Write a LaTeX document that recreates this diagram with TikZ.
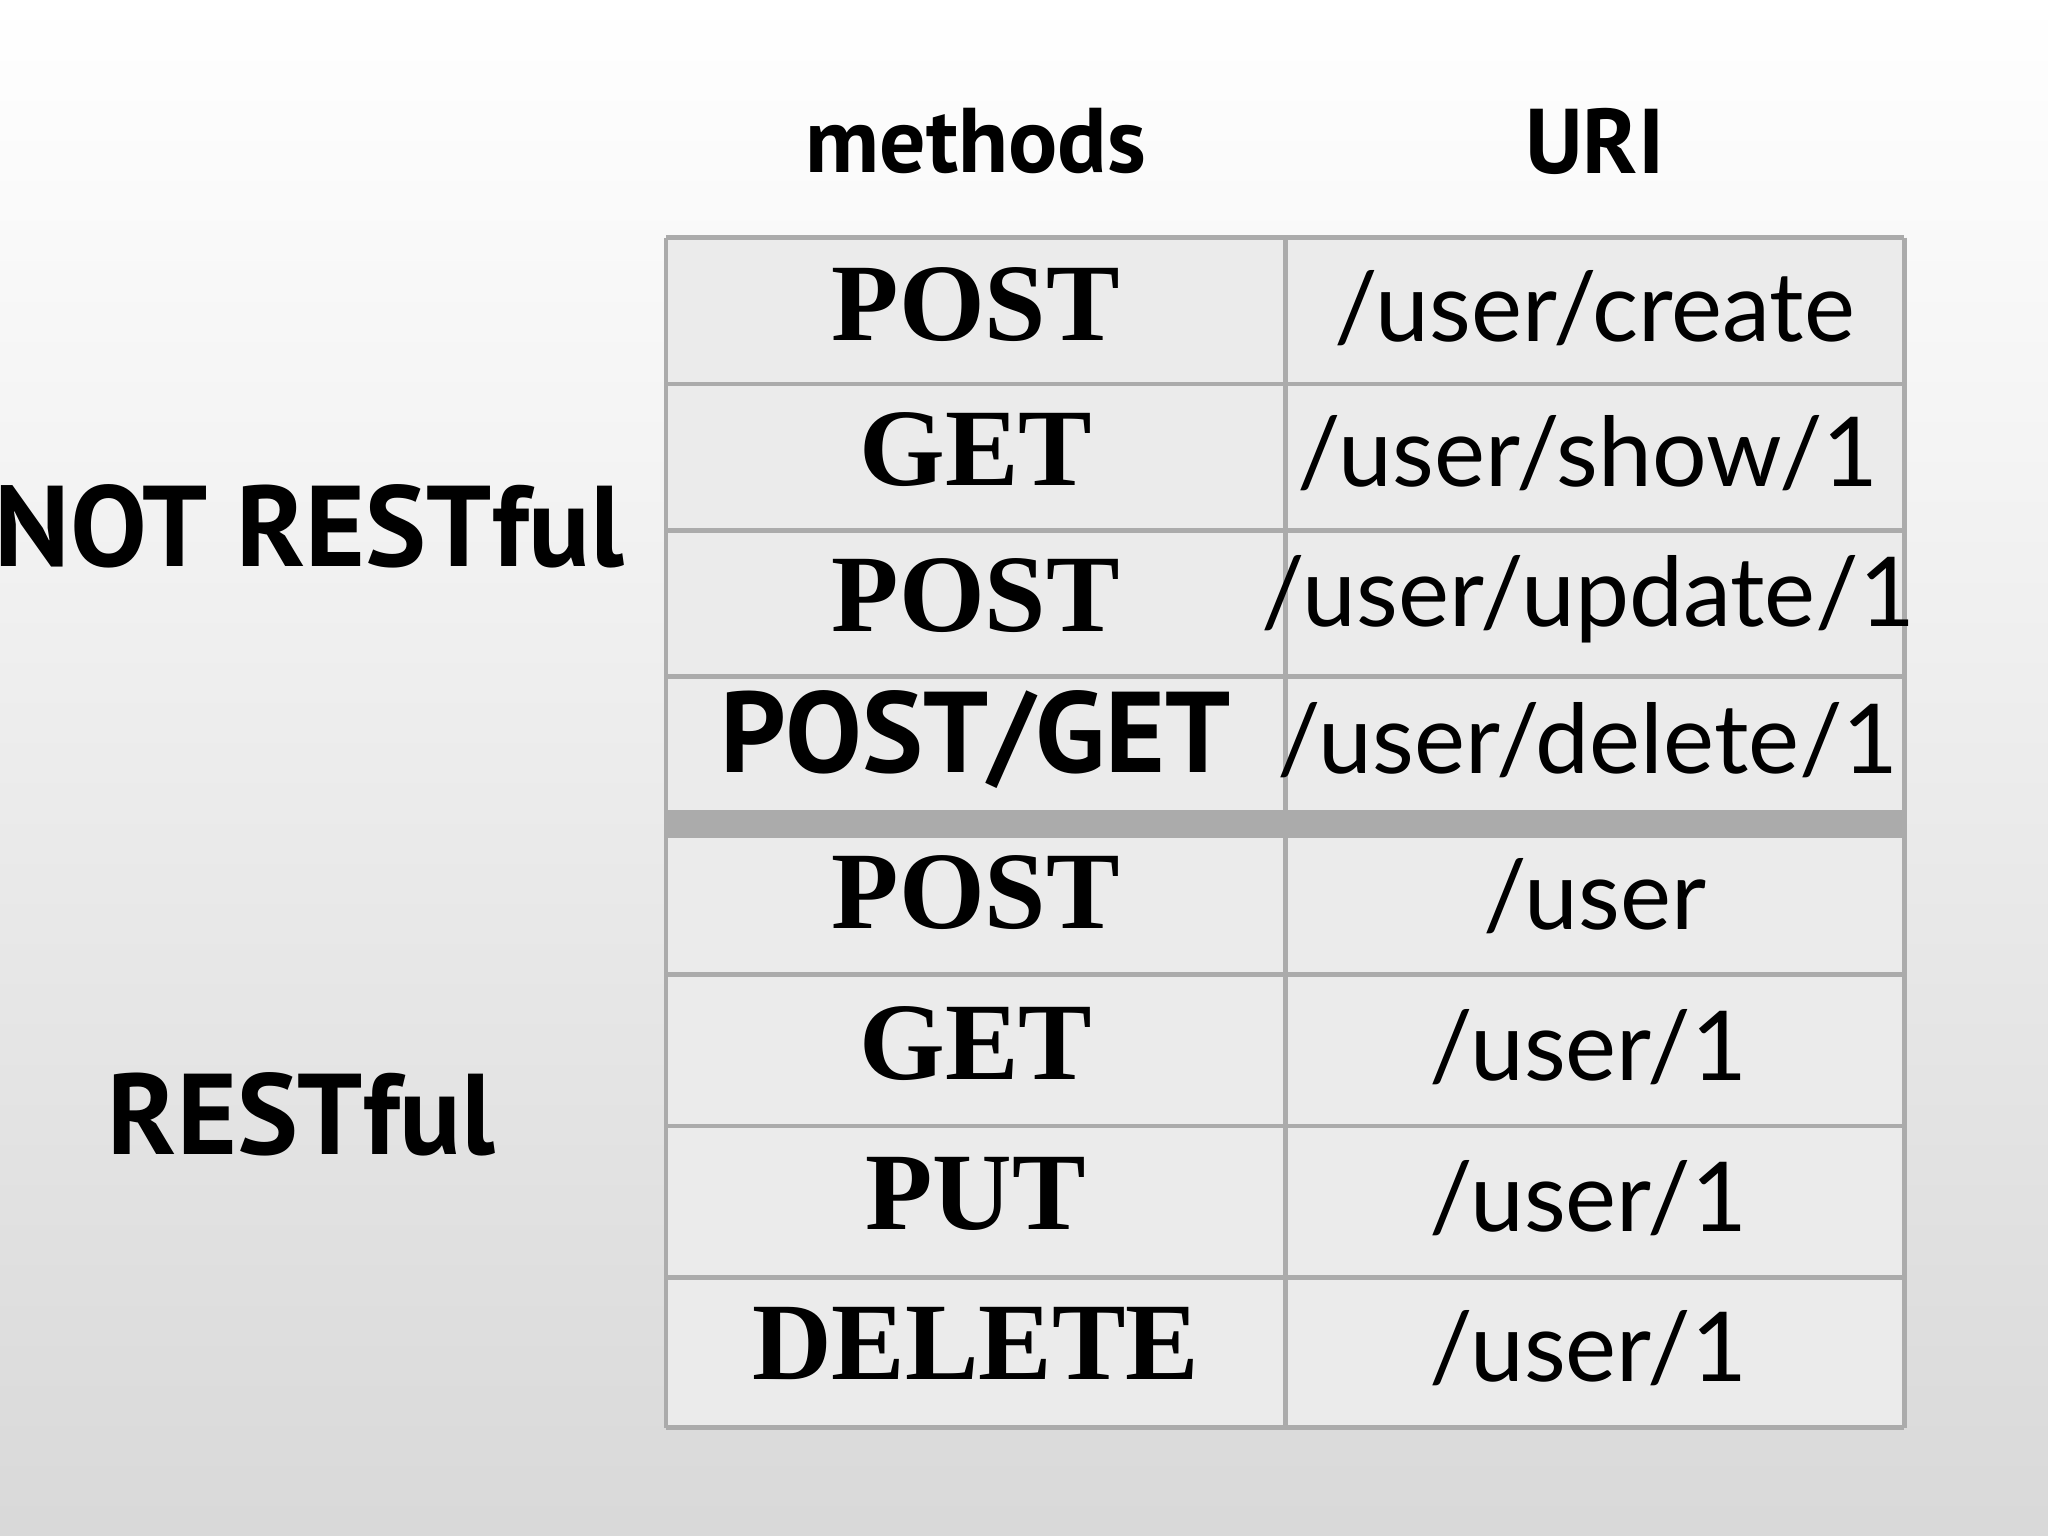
\documentclass[tikz,border=0pt]{standalone}
\usepackage{fontspec}
\setmainfont{Liberation Serif}
\newfontfamily\hdfont{PT Sans}
\newfontfamily\urifont{Lato}
\begin{document}
\begin{tikzpicture}[x=0.01cm,y=-0.01cm,
  meth/.style={font=\fontsize{24}{28}\selectfont\bfseries},
  uri/.style={font=\urifont\fontsize{21}{25}\selectfont},
  hd/.style={font=\hdfont\fontsize{20}{24}\selectfont\bfseries},
  side/.style={font=\hdfont\fontsize{25}{30}\selectfont\bfseries},
  grid/.style={draw=black!33,line width=1pt}]
\shade[top color=white,bottom color=black!15] (0,0) rectangle (1568,1176);
\useasboundingbox (0,0) rectangle (1568,1176);
\fill[black!8] (510,182) rectangle (1458,1093);
\fill[black!33] (510,622) rectangle (1458,640);
\foreach \y in {182,294,406,518,622,640,746,862,978,1093}
  \draw[grid] (510,\y) -- (1458,\y);
\draw[grid] (510,182) -- (510,1093);
\draw[grid] (984,182) -- (984,1093);
\draw[grid] (1458,182) -- (1458,1093);
\node[hd] (hm) at (747,108) {methods};
\node[hd] (hu) at (1221,108) {URI};
\node[side] (nr) at (237,403) {NOT RESTful};
\node[side] (r) at (231,853) {RESTful};
\node[meth] (m1) at (747,233) {POST};
\node[meth] (m2) at (747,344) {GET};
\node[meth] (m3) at (747,456) {POST};
\node[side] (m4) at (747,566) {POST/GET};
\node[meth] (m5) at (747,683) {POST};
\node[meth] (m6) at (747,799) {GET};
\node[meth] (m7) at (747,914) {PUT};
\node[meth] (m8) at (747,1029) {DELETE};
\node[uri] (u1) at (1221,236) {/user/create};
\node[uri] (u2) at (1216,347) {/user/show/1};
\node[uri] (u3) at (1216,459) {/user/update/1};
\node[uri] (u4) at (1216,567) {/user/delete/1};
\node[uri] (u5) at (1221,686) {/user};
\node[uri] (u6) at (1216,802) {/user/1};
\node[uri] (u7) at (1216,917) {/user/1};
\node[uri] (u8) at (1216,1032) {/user/1};
\end{tikzpicture}
\end{document}
